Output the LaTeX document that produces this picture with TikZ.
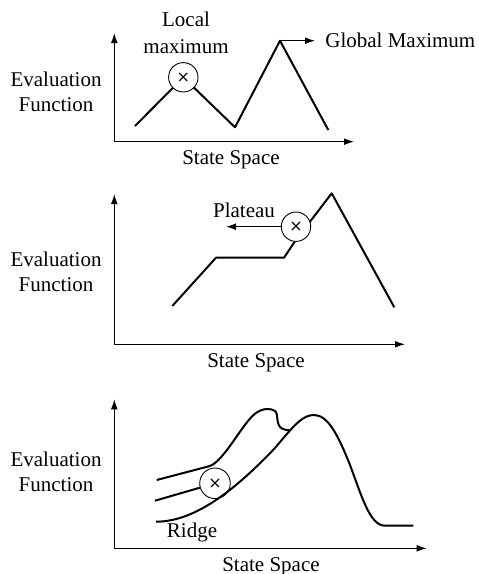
\documentclass[tikz,border=0pt]{standalone}
\usepackage{fontspec}
\setmainfont{Liberation Serif}
\newfontfamily\crossfont{DejaVu Sans}
\usetikzlibrary{arrows.meta,positioning}

\begin{document}
\begin{tikzpicture}[
  x=0.5pt, y=-0.5pt,
  font=\fontsize{10.5}{12.5}\selectfont,
  lbl/.style={inner sep=0pt, align=center},
  axis/.style={line width=0.6pt, -{Latex[length=5pt,width=3.4pt]}},
  curve/.style={line width=1pt, line join=round},
  state/.style={circle, draw, fill=white, line width=0.45pt, minimum size=14.7pt, inner sep=0pt, font=\crossfont\fontsize{8}{8}\selectfont},
  arrow/.style={line width=0.6pt, -{Latex[length=5pt,width=3.4pt]}},
]
\useasboundingbox (0,0) rectangle (478,574);

% top: local maximum
\coordinate (o1) at (114.3,141.7);
\coordinate (y1) at (114.3,33);
\coordinate (x1) at (354,141.7);
\draw[axis] (o1) -- (y1);
\draw[axis] (o1) -- (x1);
\draw[curve] (135,126) -- (183.3,77.3) coordinate (lm) -- (235,127.3) -- (280,40.7) coordinate (gm) -- (328.3,130);
\node[state] (lmax) at (lm) {×};
\node[lbl] (lmaxlbl) at (186,33) {Local\\[1pt]maximum};
\node[lbl, anchor=west] (gmax) at (325,40.7) {Global Maximum};
\draw[arrow] (gm) -- ([xshift=-5pt]gmax.west);
\node[lbl] (eval1) at (56,92) {Evaluation\\Function};
\node[lbl, anchor=base] (ss1) at (231,164) {State Space};

% middle: plateau
\coordinate (o2) at (114.3,344.3);
\coordinate (y2) at (114.3,194);
\coordinate (x2) at (405,344.3);
\draw[axis] (o2) -- (y2);
\draw[axis] (o2) -- (x2);
\draw[curve] (172.3,306) -- (216,257.7) -- (284,257.7) -- (294.7,241.7) -- (331.7,193.3) -- (394.3,307.3);
\node[state] (plat) at (296,226.7) {×};
\coordinate (platend) at (226,226.7);
\draw[arrow] (plat.west) -- (platend);
\node[lbl, anchor=base] (platlbl) at (244,217.7) {Plateau};
\node[lbl] (eval2) at (56,272) {Evaluation\\Function};
\node[lbl, anchor=base] (ss2) at (256,367.7) {State Space};

% bottom: ridge
\coordinate (o3) at (114.3,548.3);
\coordinate (y3) at (114.3,399.3);
\coordinate (x3) at (426.7,548.3);
\draw[axis] (o3) -- (y3);
\draw[axis] (o3) -- (x3);
\node[state, fill=none, minimum size=15.3pt] (ridge) at (215,483.3) {×};
\draw[curve] (156,521.7) .. controls (195,521.7) and (235,490) .. (275,448)
  .. controls (295,424) and (303,415) .. (314,415)
  .. controls (328,415) and (338,435) .. (350,465)
  .. controls (362,497) and (370,525.7) .. (385,525.7) -- (413.3,525.7);
\draw[curve] (156.7,480) -- (210,466) .. controls (225,460) and (243,422) .. (256,413)
  .. controls (263,408) and (271,408) .. (275,411)
  .. controls (279,414) and (275,426) .. (283,429)
  .. controls (286,430.3) and (288,430.3) .. (290,430.3);
\coordinate (midstart) at (155,500.7);
\draw[curve] (midstart) -- (ridge);
\node[lbl, anchor=base] (ridgelbl) at (192,537.3) {Ridge};
\node[lbl] (eval3) at (56,472) {Evaluation\\Function};
\node[lbl, anchor=base] (ss3) at (271,571.7) {State Space};
\end{tikzpicture}
\end{document}
